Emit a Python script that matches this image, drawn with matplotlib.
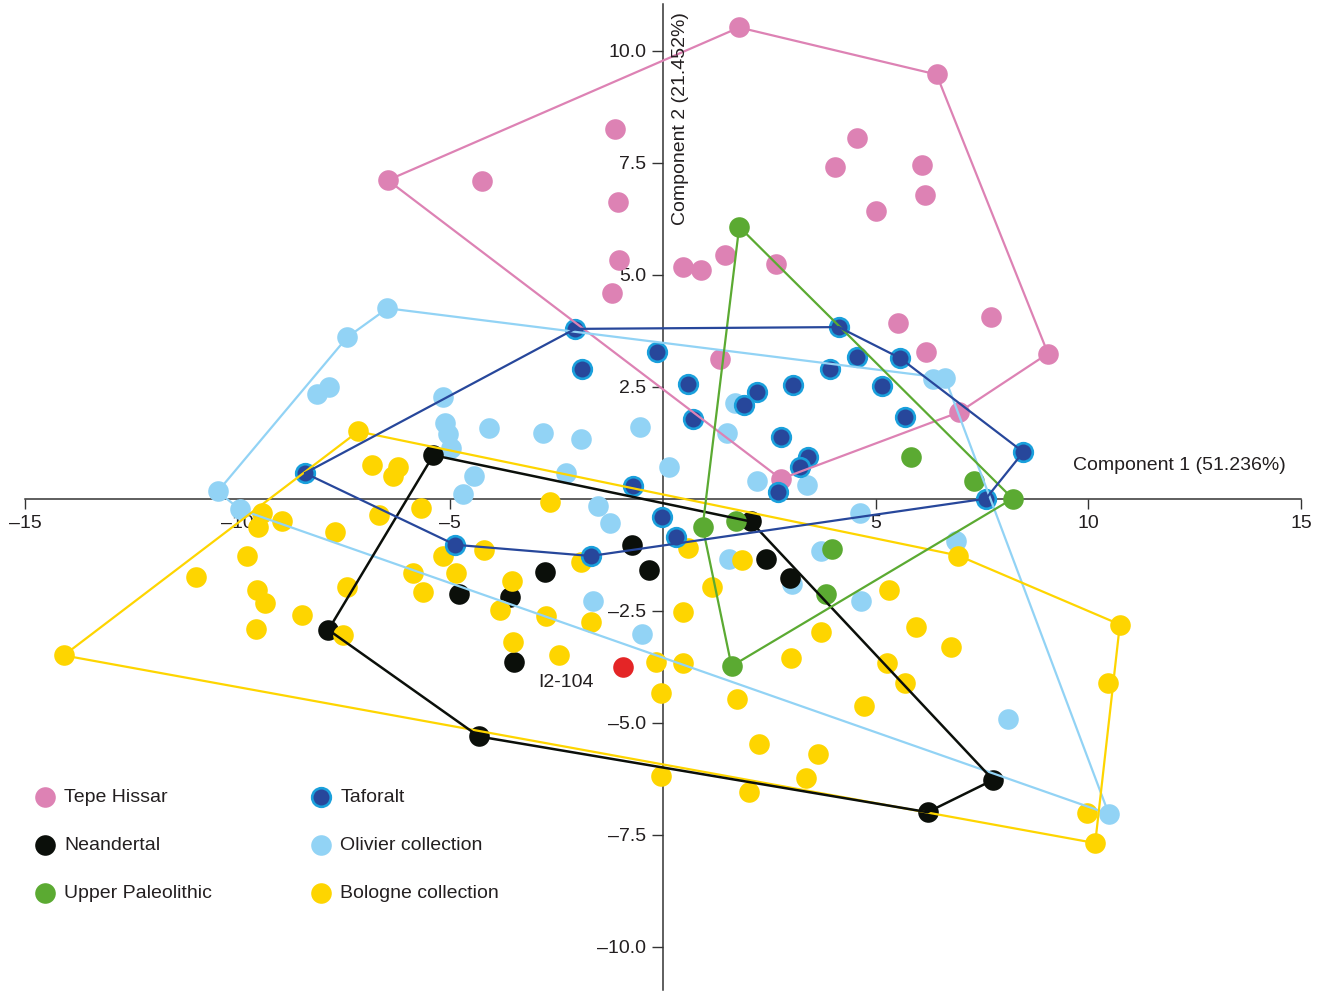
import matplotlib
matplotlib.use("Agg")
import matplotlib.pyplot as plt
from matplotlib.ticker import FuncFormatter

plt.rcParams['font.family'] = ['Liberation Sans', 'DejaVu Sans']
plt.rcParams['font.size'] = 14
plt.rcParams['text.color'] = '#231f20'

# PCA scores (component 1, component 2) for each group
tepe_x = [-6.47, -4.26, 1.79, 6.43, -1.14, -1.06, -1.03, -1.19, 0.47, 0.88, 1.46, 2.65,
          4.04, 4.57, 6.09, 6.15, 5.00, 5.53, 7.71, 9.05, 6.18, 1.35, 6.96, 2.77]
tepe_y = [7.11, 7.09, 10.52, 9.47, 8.25, 6.62, 5.33, 4.59, 5.17, 5.11, 5.44, 5.24,
          7.41, 8.05, 7.45, 6.79, 6.42, 3.93, 4.06, 3.24, 3.27, 3.12, 1.93, 0.44]

taforalt_x = [-2.07, -1.90, -0.14, -8.42, -4.89, -1.70, -0.71, -0.02, 4.13, 0.59, 0.70, 4.55, 3.92,
              5.57, 3.06, 2.22, 1.90, 5.14, 5.69, 2.78, 3.41, 3.22, 2.71, 8.47, 7.59, 0.30]
taforalt_y = [3.79, 2.89, 3.28, 0.57, -1.03, -1.28, 0.28, -0.42, 3.83, 2.55, 1.77, 3.16, 2.90,
              3.14, 2.54, 2.37, 2.09, 2.51, 1.82, 1.38, 0.92, 0.70, 0.14, 1.04, 0.00, -0.86]

olivier_x = [-6.48, -7.43, -7.85, -8.14, -5.17, -5.13, -5.05, -4.99, -4.09, -2.82, -1.94, -0.54,
             -4.45, -4.70, -2.28, -1.52, -1.25, -10.47, -9.95, 0.13, 6.35, 6.63, 1.69, 1.50,
             2.22, 3.39, 4.62, 6.89, 3.71, 1.56, 3.04, 4.65, -1.64, -0.50, 8.10, 10.48]
olivier_y = [4.25, 3.60, 2.49, 2.34, 2.26, 1.70, 1.44, 1.12, 1.57, 1.47, 1.33, 1.60,
             0.51, 0.10, 0.58, -0.17, -0.54, 0.16, -0.24, 0.71, 2.67, 2.69, 2.14, 1.46,
             0.39, 0.30, -0.33, -0.94, -1.18, -1.35, -1.91, -2.28, -2.28, -3.03, -4.92, -7.04]

neandertal_x = [-5.40, -0.72, -7.87, -4.33, -4.80, -3.60, -2.78, -3.50, 2.06, 2.42, -0.33, 2.98, 7.76, 6.22]
neandertal_y = [0.97, -1.03, -2.93, -5.31, -2.13, -2.20, -1.63, -3.64, -0.51, -1.35, -1.59, -1.78, -6.28, -7.00]

upper_x = [1.79, 5.82, 7.31, 8.22, 0.93, 1.71, 3.98, 3.82, 1.61]
upper_y = [6.07, 0.92, 0.40, 0.00, -0.63, -0.49, -1.12, -2.13, -3.74]

bologne_x = [-7.17, -6.85, -6.23, -6.36, -5.68, -6.67, -7.71, -8.96, -9.44, -9.52, -9.79, -10.98,
             -9.54, -9.36, -9.57, -8.48, -7.44, -7.53, -14.09, -5.89, -5.64, -5.17, -4.87, -4.21,
             -3.56, -3.83, -3.54, -2.66, -2.75, -1.94, -1.70, -2.44, -0.17, 0.46, -0.06, 0.58,
             1.85, 1.14, 0.46, 1.73, 3.01, 3.71, 5.32, 5.94, 6.78, 5.26, 5.69, 4.73,
             2.26, 3.65, 3.36, -0.05, 2.03, 6.94, 10.74, 10.45, 9.96, 10.16]
bologne_y = [1.50, 0.75, 0.71, 0.51, -0.22, -0.36, -0.74, -0.49, -0.31, -0.63, -1.28, -1.76,
             -2.04, -2.32, -2.91, -2.60, -1.98, -3.04, -3.50, -1.65, -2.09, -1.27, -1.67, -1.15,
             -1.84, -2.49, -3.19, -0.07, -2.62, -1.41, -2.75, -3.49, -3.64, -3.66, -4.33, -1.10,
             -1.37, -1.98, -2.52, -4.47, -3.56, -2.97, -2.04, -2.87, -3.32, -3.66, -4.12, -4.62,
             -5.48, -5.71, -6.24, -6.19, -6.54, -1.27, -2.81, -4.12, -7.02, -7.69]

specimen_x = [-0.95]
specimen_y = [-3.77]
specimen_label = "I2-104"

# convex hull vertices (indices into each group's arrays)
tepe_hull = [0, 2, 3, 19, 22, 23]
taforalt_hull = [3, 0, 8, 13, 23, 24, 5, 4]
olivier_hull = [0, 21, 35, 18, 17, 1]
neandertal_hull = [0, 8, 12, 13, 3, 2]
upper_hull = [0, 3, 8, 4]
bologne_hull = [0, 53, 54, 57, 18]

PINK = '#dd82b4'
BLACK = '#0b0f0a'
GREEN = '#5baa32'
NAVY = '#27479b'
CYAN = '#1aa0dc'
LIGHTBLUE = '#92d3f5'
YELLOW = '#fed500'
RED = '#e42526'

fig = plt.figure(figsize=(13.25, 9.92), dpi=100)
ax = fig.add_axes([0, 0, 1, 1])
ax.set_xlim(-15.59, 15.563)
ax.set_ylim(-11.015, 11.133)

S = 220


def hull_line(xs, ys, idx, color, lw=1.6):
    hx = [xs[i] for i in idx] + [xs[idx[0]]]
    hy = [ys[i] for i in idx] + [ys[idx[0]]]
    ax.plot(hx, hy, color=color, lw=lw, zorder=3, solid_capstyle='round')


h_tepe = ax.scatter(tepe_x, tepe_y, s=S, color=PINK, lw=0, zorder=2, label='Tepe Hissar')
h_oliv = ax.scatter(olivier_x, olivier_y, s=S, color=LIGHTBLUE, lw=0, zorder=2, label='Olivier collection')
h_nean = ax.scatter(neandertal_x, neandertal_y, s=S, color=BLACK, lw=0, zorder=2, label='Neandertal')
h_bolo = ax.scatter(bologne_x, bologne_y, s=S, color=YELLOW, lw=0, zorder=2, label='Bologne collection')
h_upper = ax.scatter(upper_x, upper_y, s=S, color=GREEN, lw=0, zorder=2, label='Upper Paleolithic')
h_taf = ax.scatter(taforalt_x, taforalt_y, s=180, facecolor=NAVY, edgecolor=CYAN, lw=1.9,
                   zorder=2.5, label='Taforalt')

hull_line(tepe_x, tepe_y, tepe_hull, PINK)
hull_line(olivier_x, olivier_y, olivier_hull, LIGHTBLUE)
hull_line(bologne_x, bologne_y, bologne_hull, YELLOW)
hull_line(neandertal_x, neandertal_y, neandertal_hull, BLACK, lw=1.8)
hull_line(upper_x, upper_y, upper_hull, GREEN)
hull_line(taforalt_x, taforalt_y, taforalt_hull, NAVY)

ax.scatter(specimen_x, specimen_y, s=S, color=RED, lw=0, zorder=5)
ax.annotate(specimen_label, (specimen_x[0], specimen_y[0]), xytext=(-41, -11),
            textcoords='offset points', ha='center', va='center', fontsize=14)

# axes crossing at the origin
for side in ['top', 'right']:
    ax.spines[side].set_visible(False)
ax.spines['left'].set_position(('data', 0))
ax.spines['bottom'].set_position(('data', 0))
ax.spines['left'].set_bounds(-10.97, 11.04)
ax.spines['bottom'].set_bounds(-15, 15)
for side in ['left', 'bottom']:
    ax.spines[side].set_color('#333333')
    ax.spines[side].set_linewidth(1.1)
    ax.spines[side].set_zorder(1)

ax.set_xticks([-15, -10, -5, 5, 10, 15])
ax.set_yticks([-10, -7.5, -5, -2.5, 2.5, 5, 7.5, 10])
ax.xaxis.set_major_formatter(FuncFormatter(lambda v, p: f'{v:g}'.replace('-', '\u2013')))
ax.yaxis.set_major_formatter(FuncFormatter(lambda v, p: f'{v:.1f}'.replace('-', '\u2013')))
ax.tick_params(axis='x', direction='out', length=7.5, width=1, pad=4, colors='#333333',
               labelcolor='#231f20', labelsize=14)
ax.tick_params(axis='y', direction='out', length=8, width=1, pad=4, colors='#333333',
               labelcolor='#231f20', labelsize=14)

ax.text(9.64, 0.75, 'Component 1 (51.236%)', ha='left', va='center', fontsize=14)
ax.text(0.40, 8.48, 'Component 2 (21.452%)', ha='center', va='center', rotation=90, fontsize=14)

leg = ax.legend(handles=[h_tepe, h_nean, h_upper, h_taf, h_oliv, h_bolo], ncol=2,
                loc='upper left', bbox_to_anchor=(35 / 1325, 1 - 788 / 992),
                bbox_transform=fig.transFigure, frameon=False, fontsize=14,
                handlelength=1.0, handletextpad=0.5, labelspacing=1.58,
                columnspacing=5.1, borderpad=0, borderaxespad=0, scatterpoints=1)

fig.savefig('out.png', dpi=100)
